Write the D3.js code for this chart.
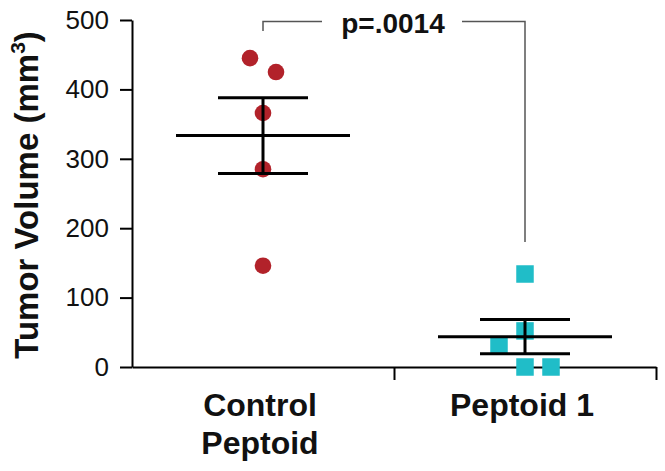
<!DOCTYPE html>
<html>
<head>
<meta charset="utf-8">
<script src="https://cdn.jsdelivr.net/npm/d3@7"></script>
<style>
  body { margin: 0; background: #fff; }
  svg text { font-family: "Liberation Sans", Arial, sans-serif; }
</style>
</head>
<body>
<svg id="chart" width="665" height="471"></svg>
<script>
// data
var groups = ['Control Peptoid', 'Peptoid 1'];
var controlVals = [445, 425, 366, 285, 146];
var peptoidVals = [134, 52, 32, 0, 0];
var yTicks = [0, 100, 200, 300, 400, 500];
var pLabel = 'p=.0014';
// bracket: top level, left leg end, right leg end (in mm3)
var bracketTop = 498, bracketLeft = 484, bracketRight = 180;

var svg = d3.select('#chart');

var y = d3.scaleLinear().domain([0, 500]).range([367, 20]);
var x = d3.scaleBand().domain(groups).range([132, 656]).padding(0);
var xEdge = d3.scaleLinear().domain([0, groups.length]).range([132, 656]);

function cx(g) { return x(g) + x.bandwidth() / 2; }

// y axis
var yAxis = svg.append('g')
  .attr('transform', 'translate(132,0)')
  .call(d3.axisLeft(y).tickValues(yTicks).tickSize(12).tickSizeOuter(0).tickPadding(11));
yAxis.select('.domain').attr('stroke-width', 2);
yAxis.selectAll('.tick line').attr('stroke-width', 2);
yAxis.selectAll('text').attr('font-size', 26).attr('fill', '#111')
  .style('font-family', '"Liberation Sans", Arial, sans-serif');

// x axis: ticks at group boundaries
var xAxis = svg.append('g')
  .attr('transform', 'translate(0,367)')
  .call(d3.axisBottom(xEdge).tickValues([1, 2]).tickFormat('').tickSize(13).tickSizeOuter(0));
xAxis.select('.domain').attr('stroke-width', 2);
xAxis.selectAll('.tick line').attr('stroke-width', 2);

// group labels
var labelLines = { 'Control Peptoid': ['Control', 'Peptoid'], 'Peptoid 1': ['Peptoid 1'] };
groups.forEach(function(g) {
  var t = svg.append('text')
    .attr('x', cx(g) - 3).attr('y', 416)
    .attr('text-anchor', 'middle')
    .attr('font-size', 32).attr('font-weight', 'bold').attr('fill', '#111');
  labelLines[g].forEach(function(line, i) {
    t.append('tspan').attr('x', cx(g) - 3).attr('dy', i === 0 ? 0 : 38).text(line);
  });
});

// y title
var title = svg.append('text')
  .attr('transform', 'translate(38,' + 195 + ') rotate(-90)')
  .attr('text-anchor', 'middle')
  .attr('font-size', 33).attr('font-weight', 'bold').attr('fill', '#111');
title.append('tspan').text('Tumor Volume (mm');
title.append('tspan').attr('font-size', 21).attr('dy', -13).text('3');
title.append('tspan').attr('dy', 13).text(')');

// spread points that fall in the same 50-unit bin side by side
function layout(vals, g) {
  var bins = d3.group(vals.map(function(v, i) { return { v: v, i: i }; }),
                      function(d) { return Math.floor(d.v / 50); });
  var pts = [];
  bins.forEach(function(arr) {
    arr.sort(function(a, b) { return b.v - a.v; });
    arr.forEach(function(d, k) {
      pts.push({ v: d.v, x: cx(g) + (k - (arr.length - 1) / 2) * 26 });
    });
  });
  return pts;
}

var ctrlPts = layout(controlVals, groups[0]);
var pepPts = layout(peptoidVals, groups[1]);

svg.append('g').selectAll('circle').data(ctrlPts).enter().append('circle')
  .attr('cx', function(d) { return d.x; })
  .attr('cy', function(d) { return y(d.v); })
  .attr('r', 8.3)
  .attr('fill', '#b2222a');

var sq = 17.5;
svg.append('g').selectAll('rect').data(pepPts).enter().append('rect')
  .attr('x', function(d) { return d.x - sq / 2; })
  .attr('y', function(d) { return y(d.v) - sq / 2; })
  .attr('width', sq).attr('height', sq)
  .attr('fill', '#20bdc8');

// mean +/- SEM
function meanSem(vals) {
  var m = d3.mean(vals);
  var sem = d3.deviation(vals) / Math.sqrt(vals.length);
  return { m: m, lo: m - sem, hi: m + sem };
}
[[controlVals, groups[0]], [peptoidVals, groups[1]]].forEach(function(p) {
  var s = meanSem(p[0]), c = cx(p[1]);
  var eg = svg.append('g').attr('stroke', '#000').attr('stroke-width', 3);
  eg.append('line').attr('x1', c - 87).attr('x2', c + 87).attr('y1', y(s.m)).attr('y2', y(s.m));
  eg.append('line').attr('x1', c - 45).attr('x2', c + 45).attr('y1', y(s.hi)).attr('y2', y(s.hi));
  eg.append('line').attr('x1', c - 45).attr('x2', c + 45).attr('y1', y(s.lo)).attr('y2', y(s.lo));
  eg.append('line').attr('x1', c).attr('x2', c).attr('y1', y(s.hi)).attr('y2', y(s.lo));
});

// significance bracket
var xl = cx(groups[0]), xr = cx(groups[1]), xm = 393;
var br = svg.append('g').attr('stroke', '#555').attr('stroke-width', 1.5).attr('fill', 'none');
br.append('path').attr('d', 'M' + xl + ',' + y(bracketLeft) + 'V' + y(bracketTop) + 'H' + (xm - 71));
br.append('path').attr('d', 'M' + (xm + 69) + ',' + y(bracketTop) + 'H' + xr + 'V' + y(bracketRight));
svg.append('text')
  .attr('x', xm).attr('y', 33)
  .attr('text-anchor', 'middle')
  .attr('font-size', 28).attr('font-weight', 'bold').attr('fill', '#111')
  .text(pLabel);
</script>
</body>
</html>
